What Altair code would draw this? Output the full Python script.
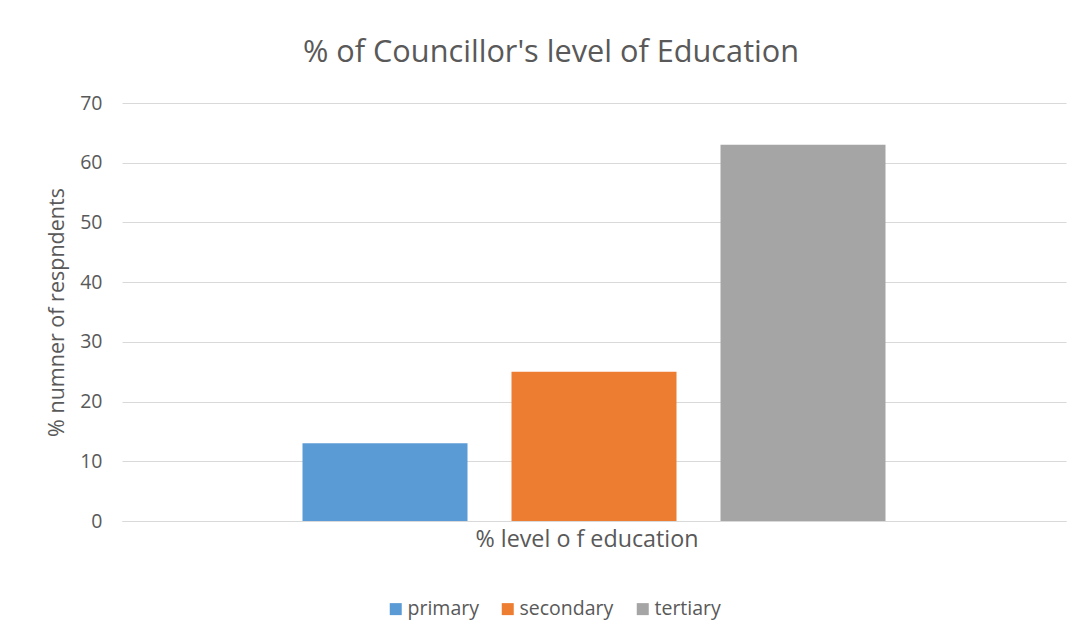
import altair as alt
import pandas as pd

levels = ["primary", "secondary", "tertiary"]
values = [13, 25, 63]
category = ["% level o f education"] * 3
colors = ["#5B9BD5", "#ED7D31", "#A5A5A5"]

df = pd.DataFrame({"cat": category, "level": levels, "value": values})

FONT = "Open Sans"
TXT = "#595959"

chart = alt.Chart(df).mark_bar().encode(
    x=alt.X("cat:N", title=None,
            scale=alt.Scale(paddingInner=0, paddingOuter=0.3096),
            axis=alt.Axis(labelAngle=0, grid=False, ticks=False, domainColor="#D9D9D9",
                          domainWidth=1, labelPadding=7, labelFontSize=23.3, labelLimit=600,
                          labelOffset=-7)),
    xOffset=alt.XOffset("level:N", sort=levels,
                        scale=alt.Scale(paddingInner=0.2105, paddingOuter=0)),
    y=alt.Y("value:Q", title="% numner of respndents",
            scale=alt.Scale(domain=[0, 70]),
            axis=alt.Axis(values=[0, 10, 20, 30, 40, 50, 60, 70], grid=True,
                          ticks=False, domain=False, labelFontSize=19.5, titleFontSize=21.5,
                          gridColor="#D9D9D9", labelPadding=20, titlePadding=11)),
    color=alt.Color("level:N", sort=levels,
                    scale=alt.Scale(domain=levels, range=colors),
                    legend=alt.Legend(title=None, orient="none", direction="horizontal",
                                      legendX=264, legendY=496, symbolType="square",
                                      symbolSize=144, symbolStrokeWidth=0,
                                      labelOffset=2, columnPadding=19)),
).properties(
    width=944,
    height=418,
    title=alt.TitleParams("% of Councillor's level of Education", fontSize=30.7, font=FONT,
                          color=TXT, fontWeight="normal", dx=-43, offset=24, anchor="middle"),
    autosize=alt.AutoSizeParams(type="none"),
    padding={"left": 114, "top": 95, "right": 11, "bottom": 118},
).configure_view(stroke=None).configure_axis(
    labelColor=TXT, labelFont=FONT,
    titleFont=FONT, titleColor=TXT, titleFontWeight="normal",
).configure_legend(
    labelFontSize=19.5, labelColor=TXT, labelFont=FONT,
)

chart.save("out.html", embed_options={"renderer": "svg", "actions": False})
